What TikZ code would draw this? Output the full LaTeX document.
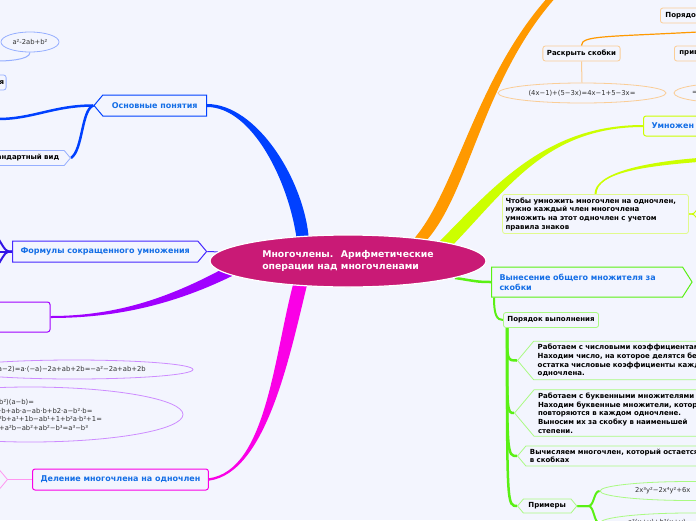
\documentclass[tikz,border=0pt]{standalone}
\usepackage{fontspec}
\setmainfont{DejaVu Sans}
\usetikzlibrary{shapes.geometric,shapes.symbols}

\definecolor{cbg}{RGB}{243,245,254}
\definecolor{cmag}{RGB}{201,26,118}
\definecolor{cblue}{RGB}{0,64,255}
\definecolor{corange}{RGB}{255,153,0}
\definecolor{cyg}{RGB}{204,255,0}
\definecolor{cgreen}{RGB}{90,240,20}
\definecolor{cpurple}{RGB}{160,0,255}
\definecolor{cpink}{RGB}{250,0,230}
\definecolor{cind}{RGB}{70,40,255}
\definecolor{cindd}{RGB}{50,20,230}
\definecolor{ctitle}{RGB}{20,110,230}
\definecolor{clorange}{RGB}{250,205,150}
\definecolor{clblue}{RGB}{150,175,255}
\definecolor{clpurple}{RGB}{205,140,255}
\definecolor{clpink}{RGB}{255,150,240}
\definecolor{clgreen}{RGB}{170,250,130}
\definecolor{clyg}{RGB}{225,250,140}

\pgfdeclarelayer{bg}
\pgfdeclarelayer{edges}
\pgfsetlayers{bg,edges,main}

\begin{document}
\begin{tikzpicture}[x=1pt,y=-1pt,
    topic/.style={draw,line width=1pt,fill=cbg,text=ctitle,font=\bfseries\fontsize{8}{10}\selectfont,minimum height=21pt,inner xsep=8pt},
    leaf/.style={draw,line width=0.8pt,fill=cbg,text=black,font=\bfseries\fontsize{7}{8.7}\selectfont,inner xsep=4pt,inner ysep=3pt},
    formula/.style={ellipse,draw,line width=0.8pt,inner sep=0pt,fill=cbg,text=black!80,font=\fontsize{6.8}{8.7}\selectfont},
    sig/.style={signal,signal pointer angle=100},
    rbox/.style={rounded corners=2.5pt}]
  \begin{pgfonlayer}{bg}
    \fill[cbg] (0,0) rectangle (696,520);
  \end{pgfonlayer}
  \useasboundingbox (0,0) rectangle (696,520);

  % centre
  \node[ellipse,fill=cmag,draw=white,line width=1.2pt,minimum width=276pt,minimum height=52pt,inner sep=0pt,
        text=white,align=left,font=\bfseries\fontsize{9.3}{12.5}\selectfont] (root) at (348,261)
        {Многочлены.~ Арифметические\\операции над многочленами};

  % left side
  \node[topic,sig,signal to=west,anchor=east,draw=cblue,inner xsep=9pt] (basics) at (207,105.5) {Основные понятия};
  \node[leaf,sig,signal to=east,anchor=east,draw=clblue,text width=80pt,align=right,minimum height=15pt,inner xsep=5pt] (std) at (71,158) {андартный вид};
  \node[leaf,rbox,anchor=east,draw=clblue,text width=30pt,align=right,minimum height=15pt,inner xsep=2pt] (ya) at (6.5,82.5) {я};
  \node[formula,draw=clblue,minimum width=58pt,minimum height=20pt] (sq) at (30,42) {a²-2ab+b²};
  \node[topic,sig,signal to=east,anchor=west,draw=cind] (form) at (12,251.5) {Формулы сокращенного умножения};
  \node[leaf,rbox,anchor=east,draw=cpurple,line width=1pt,minimum height=30pt,text width=60pt] (purp) at (50.5,317) {};
  \node[formula,draw=clpurple,minimum width=238pt,minimum height=19pt,text width=152pt,align=left] (fa) at (74,369.5)
        {a−2)=a·(−a)−2a+ab+2b=−a²−2a+ab+2b};
  \node[formula,draw=clpurple,minimum width=306pt,minimum height=55pt] (fb) at (30,414.5) {};
  \node[anchor=west,align=left,inner sep=0pt,text=black!80,font=\fontsize{6.8}{8.7}\selectfont] (fbt) at (-1,415)
        {b²)(a−b)=\\·b+ab·a−ab·b+b2·a−b²·b=\\²b+a¹+1b−ab¹+1+b²a·b²+1=\\+a²b−ab²+ab²−b³=a³−b³};
  \node[topic,rbox,anchor=west,draw=cpink] (del) at (32,479.5) {Деление многочлена на одночлен};
  \node[leaf,sig,signal to=east,anchor=east,draw=clpink,text width=40pt,minimum height=22pt] (delx) at (8,479.5) {};

  % right side
  \node[leaf,rbox,anchor=west,draw=clorange,text width=45pt,align=left,minimum height=15pt,inner xsep=5pt] (ordr) at (660,15.5) {Порядо};
  \node[leaf,rbox,draw=clorange,minimum height=15pt] (rasc) at (581.5,53.5) {Раскрыть скобки};
  \node[leaf,rbox,anchor=west,draw=clorange,text width=30pt,align=left,minimum height=15pt,inner xsep=5pt] (priv) at (674,53.5) {прив};
  \node[formula,draw=clorange,minimum width=168pt,minimum height=20pt] (ra) at (582,93) {(4x−1)+(5−3x)=4x−1+5−3x=};
  \node[formula,draw=clorange,minimum width=116pt,minimum height=20pt,text width=80pt,align=left] (pa) at (732,93) {=};
  \node[topic,rbox,anchor=west,draw=cyg,text width=60pt,align=left,minimum height=20pt] (mult) at (643,126) {Умножен};
  \node[leaf,rbox,draw=clyg,text width=180pt,align=left,inner xsep=3pt] (chto) at (595.5,214)
        {Чтобы умножить многочлен на одночлен,\\нужно каждый член многочлена\\умножить на этот одночлен с учетом\\правила знаков};
  \node[topic,sig,signal to=east,signal pointer angle=115,anchor=west,draw=cgreen,text width=175pt,align=left,
        inner ysep=6pt,minimum height=30pt] (vyn) at (491,282) {Вынесение общего множителя за\\скобки};
  \node[leaf,rbox,draw=clgreen,minimum height=15pt] (po) at (551,320) {Порядок выполнения};
  \node[leaf,sig,signal to=west,anchor=west,draw=clgreen,text width=190pt,align=left] (s1) at (517,360.5)
        {Работаем с числовыми коэффициентам\\Находим число, на которое делятся без\\остатка числовые коэффициенты кажд\\одночлена.};
  \node[leaf,sig,signal to=west,anchor=west,draw=clgreen,text width=190pt,align=left] (s2) at (514,413)
        {Работаем с буквенными множителями\\Находим буквенные множители, котор\\повторяются в каждом одночлене.\\Выносим их за скобку в наименьшей\\степени.};
  \node[leaf,sig,signal to=west,anchor=west,draw=clgreen,text width=190pt,align=left] (s3) at (517,456)
        {Вычисляем многочлен, который остается\\в скобках};
  \node[leaf,sig,signal to=west and east,anchor=west,draw=clgreen,minimum height=14pt,inner ysep=2pt,inner xsep=5pt] (prim) at (517,506) {Примеры};
  \node[formula,draw=clgreen,minimum width=180pt,minimum height=19pt,text width=110pt,align=left] (pe1) at (690,491) {2x³y²−2x⁴y²+6x};
  \node[formula,draw=clgreen,minimum width=180pt,minimum height=20pt,text width=124pt,align=left] (pe2) at (690,523) {a²(x+y)+b²(x+y)};

  % free ends
  \coordinate (otop) at (553,-4);
  \coordinate (otr) at (698,32);
  \coordinate (ytr) at (698,160);
  \coordinate (cy1) at (698,208);
  \coordinate (cy2) at (698,220);
  \coordinate (bl1) at (-2,119);
  \coordinate (sqe) at (-2,61);
  \coordinate (fl1) at (-2,238);
  \coordinate (fl2) at (-2,251.5);
  \coordinate (fl3) at (-2,265);
  \coordinate (vbl) at (vyn.west |- vyn.south);
  \coordinate (pob) at ([xshift=4pt]po.south west);

  \begin{pgfonlayer}{edges}
    % main branches
    \fill[cblue] ([yshift=1.5pt]basics.east) .. controls +(50,0) and +(-4,-60) .. ([shift={(-39,-20)}]root.center)
      -- ([shift={(-51,-20)}]root.center) .. controls +(-8,-60) and +(45,0) .. ([yshift=-1.5pt]basics.east) -- cycle;
    \fill[corange] ([shift={(62,-18)}]root.center) .. controls +(45,-46) and +(-75,83) .. ([xshift=-4pt]otop)
      -- ([xshift=4pt]otop) .. controls +(-75,83) and +(45,-46) .. ([shift={(76,-18)}]root.center) -- cycle;
    \fill[cyg] ([shift={(84,-12)}]root.center) .. controls +(60,-60) and +(-100,0) .. ([yshift=1pt]mult.west)
      -- ([yshift=-1pt]mult.west) .. controls +(-100,0) and +(60,-60) .. ([shift={(97,-8)}]root.center) -- cycle;
    \fill[cpurple] ([shift={(-106,10)}]root.center) .. controls +(-62,32) and +(69,0) .. ([yshift=-1pt]purp.east)
      -- ([yshift=1pt]purp.east) .. controls +(69,0) and +(-55,30) .. ([shift={(-120,5)}]root.center) -- cycle;
    \fill[cpink] ([shift={(-40,20)}]root.center) .. controls +(-18,73) and +(58,-8) .. ([yshift=-1.2pt]del.east)
      -- ([yshift=1.2pt]del.east) .. controls +(58,-8) and +(-20,73) .. ([shift={(-54,20)}]root.center) -- cycle;
    \draw[cgreen,line width=2.5pt] (root.-9) .. controls +(20,3) and +(-15,0) .. (vyn.west);
    \draw[cind,line width=1pt] (form.east) -- (root.176);

    % left
    \draw[cblue,line width=2.5pt] (basics.west) .. controls +(-40,0) and +(35,0) .. (bl1);
    \draw[cblue,line width=2.5pt] (basics.west) .. controls +(-12,4) and +(12,-8) .. (std.east);
    \draw[clblue,line width=1pt] (sq.south) .. controls +(0,8) and +(6,0) .. (sqe);
    \foreach \fl in {fl1,fl2,fl3}
      \draw[cindd,line width=2pt] (form.west) .. controls +(-6,0) .. (\fl);
    \draw[clpink,line width=1pt] (del.west) -- (delx.east);

    % right
    \draw[corange,line width=1.2pt] (otr) .. controls +(-95,5) and +(0,-10) .. (rasc.north);
    \draw[clorange,line width=1pt] (rasc.south) -- (ra.north);
    \fill[cyg] ([xshift=-1pt]chto.north) .. controls +(0,-22) and +(-50,4) .. ([yshift=2pt]ytr)
      -- ([yshift=-2pt]ytr) .. controls +(-50,4) and +(0,-22) .. ([xshift=1pt]chto.north) -- cycle;
    \draw[cyg,line width=1pt] (chto.east) .. controls +(5,0) .. (cy1);
    \draw[cyg,line width=1pt] (chto.east) .. controls +(5,0) .. (cy2);
    \draw[cgreen,line width=2pt] ([xshift=3pt]vbl) .. controls +(0,18) and +(-6,0) .. (po.west);
    \foreach \s in {s1,s2,s3,prim}
      \draw[cgreen,line width=2.5pt] (pob) .. controls (pob |- \s.west) .. (\s.west);
    \draw[cgreen,line width=2pt] (prim.east) -- ++(11,0) .. controls +(6,0) and +(-6,0) .. (pe1.west);
    \draw[cgreen,line width=2pt] (prim.east) -- ++(11,0) .. controls +(6,0) and +(-6,0) .. (pe2.west);
  \end{pgfonlayer}
\end{tikzpicture}
\end{document}
